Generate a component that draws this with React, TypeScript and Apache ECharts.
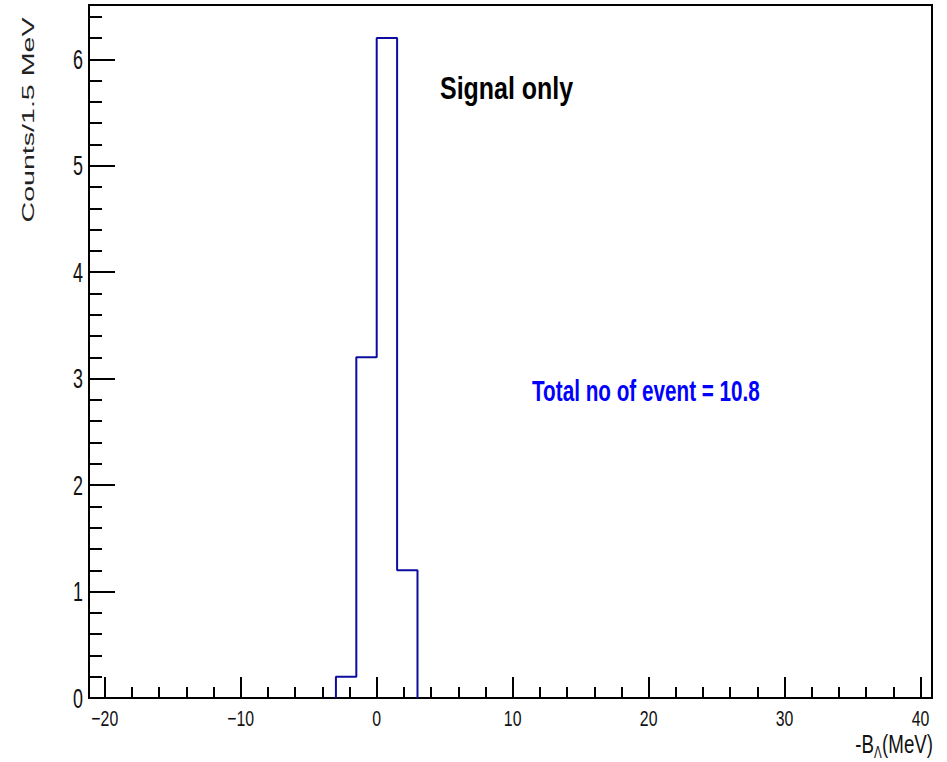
import React, { useEffect, useRef } from "react";
import * as echarts from "echarts";

// Histogram data (bin width 1.5 MeV)
const binEdges = [-3, -1.5, 0, 1.5, 3];
const binCounts = [0.2, 3.2, 6.2, 1.2];
const xRange = [-21.16, 40.84];
const yRange = [0, 6.51];
const xTickLabels = [-20, -10, 0, 10, 20, 30, 40];
const yTickLabels = [0, 1, 2, 3, 4, 5, 6];
const titleText = "Signal only";
const totalText = "Total no of event = 10.8";
const yTitle = "Counts/1.5 MeV";
const xTitleMain = "-B";
const xTitleSub = "Λ";
const xTitleUnit = "(MeV)";

function outline(edges: number[], counts: number[]) {
  const pts: number[][] = [[edges[0], 0]];
  counts.forEach((c, i) => {
    pts.push([edges[i], c]);
    pts.push([edges[i + 1], c]);
  });
  pts.push([edges[edges.length - 1], 0]);
  return pts;
}

const FONT = "'Liberation Sans', Arial, sans-serif";
const fmtNum = (v: number) => (v < 0 ? "\u2212" + Math.abs(v) : String(v));

export default function App() {
  const ref = useRef<HTMLDivElement>(null);
  useEffect(() => {
    if (!ref.current) return;
    const chart = echarts.init(ref.current, undefined, { renderer: "svg" });
    const black = "#000";
    chart.setOption({
      animation: false,
      backgroundColor: "#fff",
      grid: {
        left: 89,
        top: 5,
        right: 15,
        bottom: 64,
        show: true,
        borderColor: black,
        borderWidth: 2,
        containLabel: false,
        outerBoundsMode: "none",
      },
      xAxis: {
        type: "value",
        min: xRange[0],
        max: xRange[1],
        splitNumber: 6,
        splitLine: { show: false },
        axisLine: { onZero: false, lineStyle: { color: black, width: 2 } },
        axisTick: { inside: true, length: 21, lineStyle: { color: black, width: 2 } },
        minorTick: { show: true, splitNumber: 5, length: 11, lineStyle: { color: black, width: 2 } },
        axisLabel: { show: false },
      },
      yAxis: {
        type: "value",
        min: yRange[0],
        max: yRange[1],
        interval: 1,
        splitLine: { show: false },
        axisLine: { onZero: false, lineStyle: { color: black, width: 2 } },
        axisTick: { inside: true, length: 26, lineStyle: { color: black, width: 2 } },
        minorTick: { show: true, splitNumber: 5, length: 13, lineStyle: { color: black, width: 2 } },
        axisLabel: { show: false },
      },
      series: [
        {
          type: "line",
          data: outline(binEdges, binCounts),
          showSymbol: false,
          symbol: "none",
          silent: true,
          lineStyle: { color: "#0c0c9e", width: 2 },
        },
      ],
    });

    // Tick labels placed through the chart's own axis scales
    const labels: any[] = [];
    xTickLabels.forEach((v) => {
      const p = chart.convertToPixel({ gridIndex: 0 }, [v, yRange[0]]) as number[];
      labels.push({
        type: "text",
        x: p[0],
        y: p[1] + 21,
        scaleX: 0.72,
        silent: true,
        style: {
          text: fmtNum(v),
          font: `22px ${FONT}`,
          fill: "#111",
          textAlign: "center",
          textVerticalAlign: "middle",
        },
      });
    });
    yTickLabels.forEach((v) => {
      const p = chart.convertToPixel({ gridIndex: 0 }, [xRange[0], v]) as number[];
      labels.push({
        type: "text",
        x: p[0] - 6,
        y: p[1],
        scaleX: 0.64,
        silent: true,
        style: {
          text: fmtNum(v),
          font: `28px ${FONT}`,
          fill: "#111",
          textAlign: "right",
          textVerticalAlign: "middle",
        },
      });
    });

    chart.setOption({
      graphic: [
        ...labels,
        {
          type: "text",
          x: 440,
          y: 88,
          scaleX: 0.78,
          silent: true,
          style: {
            text: titleText,
            font: `bold 32px ${FONT}`,
            fill: "#000",
            textAlign: "left",
            textVerticalAlign: "middle",
          },
        },
        {
          type: "text",
          x: 532,
          y: 391,
          scaleX: 0.69,
          silent: true,
          style: {
            text: totalText,
            font: `bold 30px ${FONT}`,
            fill: "#0000ff",
            textAlign: "left",
            textVerticalAlign: "middle",
          },
        },
        {
          type: "text",
          x: 28,
          y: 120,
          rotation: Math.PI / 2,
          scaleX: 1.3,
          scaleY: 0.75,
          silent: true,
          style: {
            text: yTitle,
            font: `22px ${FONT}`,
            fill: "#222",
            textAlign: "center",
            textVerticalAlign: "middle",
          },
        },
        {
          type: "text",
          x: 933,
          y: 744,
          scaleX: 0.72,
          silent: true,
          style: {
            text: xTitleUnit,
            font: `26px ${FONT}`,
            fill: "#111",
            textAlign: "right",
            textVerticalAlign: "middle",
          },
        },
        {
          type: "text",
          x: 874,
          y: 752,
          scaleX: 0.72,
          silent: true,
          style: {
            text: xTitleSub,
            font: `16px ${FONT}`,
            fill: "#111",
            textAlign: "left",
            textVerticalAlign: "middle",
          },
        },
        {
          type: "text",
          x: 874,
          y: 744,
          scaleX: 0.72,
          silent: true,
          style: {
            text: xTitleMain,
            font: `26px ${FONT}`,
            fill: "#111",
            textAlign: "right",
            textVerticalAlign: "middle",
          },
        },
      ],
    });
    return () => chart.dispose();
  }, []);
  return (
    <div
      ref={ref}
      style={{ position: "fixed", left: 0, top: 0, width: 947, height: 762, background: "#fff" }}
    />
  );
}
